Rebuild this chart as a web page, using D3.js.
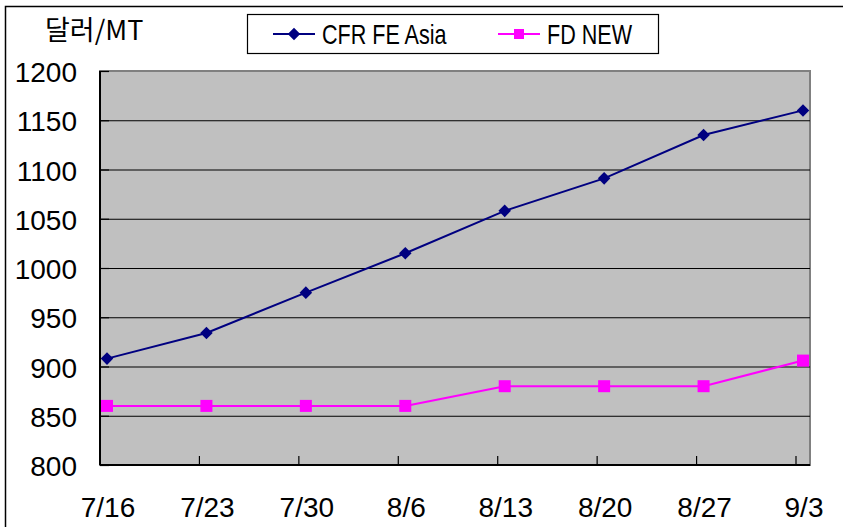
<!DOCTYPE html>
<html>
<head>
<meta charset="utf-8">
<script src="https://cdn.jsdelivr.net/npm/d3@7"></script>
<style>
  html, body { margin: 0; padding: 0; background: #fff; }
  svg { display: block; }
</style>
</head>
<body>
<div id="chart"></div>
<script>
const categories = ['7/16', '7/23', '7/30', '8/6', '8/13', '8/20', '8/27', '9/3'];
const cfrFeAsia = [908, 934, 975, 1015, 1058, 1091, 1135, 1160];
const fdNew = [860, 860, 860, 860, 880, 880, 880, 906];
const yTicks = [800, 850, 900, 950, 1000, 1050, 1100, 1150, 1200];
const seriesNames = ['CFR FE Asia', 'FD NEW'];

const W = 843, H = 527;
const plot = { left: 100, top: 71, right: 810, bottom: 465 };
const FONT = '"Liberation Sans", Arial, sans-serif';
const NAVY = '#000080', MAGENTA = '#FF00FF';

const svg = d3.select('#chart').append('svg')
  .attr('width', W).attr('height', H);

// outer frame
svg.append('rect')
  .attr('x', 5.5).attr('y', 6.5).attr('width', W).attr('height', H)
  .attr('fill', '#fff').attr('stroke', '#000').attr('stroke-width', 1.5);

const x = d3.scalePoint().domain(categories).range([107, 803]);
const y = d3.scaleLinear().domain([800, 1200]).range([plot.bottom, plot.top]);

// plot background
svg.append('rect')
  .attr('x', plot.left).attr('y', plot.top)
  .attr('width', plot.right - plot.left).attr('height', plot.bottom - plot.top)
  .attr('fill', '#C0C0C0').attr('stroke', '#808080').attr('stroke-width', 2);

// gridlines
svg.append('g').selectAll('line').data(yTicks.filter(v => v > 800 && v < 1200)).enter().append('line')
  .attr('x1', plot.left).attr('x2', plot.right)
  .attr('y1', d => y(d) + 0.5).attr('y2', d => y(d) + 0.5)
  .attr('stroke', '#000').attr('stroke-width', 1.2);

// y axis ticks (inside) + labels
svg.append('g').selectAll('line').data(yTicks).enter().append('line')
  .attr('x1', plot.left).attr('x2', plot.left + 9)
  .attr('y1', d => y(d) + 0.5).attr('y2', d => y(d) + 0.5)
  .attr('stroke', '#000').attr('stroke-width', 1.2);

svg.append('g').selectAll('text').data(yTicks).enter().append('text')
  .attr('x', 77).attr('y', d => y(d) + 11)
  .attr('text-anchor', 'end')
  .attr('font-family', FONT).attr('font-size', 28)
  .attr('fill', '#000').text(d => d);

// x axis ticks (inside, offset left of each point) + labels
svg.append('g').selectAll('line').data(categories.slice(1)).enter().append('line')
  .attr('x1', d => x(d) - 7).attr('x2', d => x(d) - 7)
  .attr('y1', plot.bottom - 9).attr('y2', plot.bottom)
  .attr('stroke', '#000').attr('stroke-width', 1.2);

svg.append('g').selectAll('text').data(categories).enter().append('text')
  .attr('x', d => x(d) + 1).attr('y', 517)
  .attr('text-anchor', 'middle')
  .attr('font-family', FONT).attr('font-size', 28)
  .attr('fill', '#000').text(d => d);

// axes lines
svg.append('line')
  .attr('x1', plot.left).attr('x2', plot.left)
  .attr('y1', plot.top).attr('y2', plot.bottom)
  .attr('stroke', '#000').attr('stroke-width', 2);
svg.append('line')
  .attr('x1', plot.left).attr('x2', plot.right)
  .attr('y1', plot.bottom).attr('y2', plot.bottom)
  .attr('stroke', '#000').attr('stroke-width', 2);

// series
const line = d3.line().x((d, i) => x(categories[i])).y(d => y(d));

svg.append('path').datum(fdNew)
  .attr('d', line).attr('fill', 'none')
  .attr('stroke', MAGENTA).attr('stroke-width', 2);
svg.append('g').selectAll('rect').data(fdNew).enter().append('rect')
  .attr('x', (d, i) => x(categories[i]) - 6).attr('y', d => y(d) - 6)
  .attr('width', 12).attr('height', 12).attr('fill', MAGENTA);

svg.append('path').datum(cfrFeAsia)
  .attr('d', line).attr('fill', 'none')
  .attr('stroke', NAVY).attr('stroke-width', 2);
const diamond = d3.symbol().type(d3.symbolDiamond2).size(100);
svg.append('g').selectAll('path').data(cfrFeAsia).enter().append('path')
  .attr('d', diamond)
  .attr('transform', (d, i) => `translate(${x(categories[i])},${y(d)})`)
  .attr('fill', NAVY);

// unit label
svg.append('text')
  .attr('x', 45).attr('y', 40)
  .attr('font-family', '"Noto Sans CJK KR", ' + FONT).attr('font-size', 27)
  .attr('fill', '#000').text('달러/MT');

// legend
const lg = svg.append('g');
lg.append('rect')
  .attr('x', 247.5).attr('y', 14.5).attr('width', 411).attr('height', 39)
  .attr('fill', '#fff').attr('stroke', '#000').attr('stroke-width', 1.2);

const legendItems = [
  { name: seriesNames[0], color: NAVY, x0: 273, tx: 322, marker: 'diamond' },
  { name: seriesNames[1], color: MAGENTA, x0: 498, tx: 547, marker: 'square' },
];
legendItems.forEach(it => {
  lg.append('line')
    .attr('x1', it.x0).attr('x2', it.x0 + 42).attr('y1', 34).attr('y2', 34)
    .attr('stroke', it.color).attr('stroke-width', 2);
  if (it.marker === 'diamond') {
    lg.append('path').attr('d', diamond)
      .attr('transform', `translate(${it.x0 + 21},34)`).attr('fill', it.color);
  } else {
    lg.append('rect').attr('x', it.x0 + 16).attr('y', 29)
      .attr('width', 10).attr('height', 10).attr('fill', it.color);
  }
  lg.append('text')
    .attr('transform', `translate(${it.tx},44) scale(0.77,1)`)
    .attr('font-family', FONT).attr('font-size', 28)
    .attr('fill', '#000').text(it.name);
});
</script>
</body>
</html>
